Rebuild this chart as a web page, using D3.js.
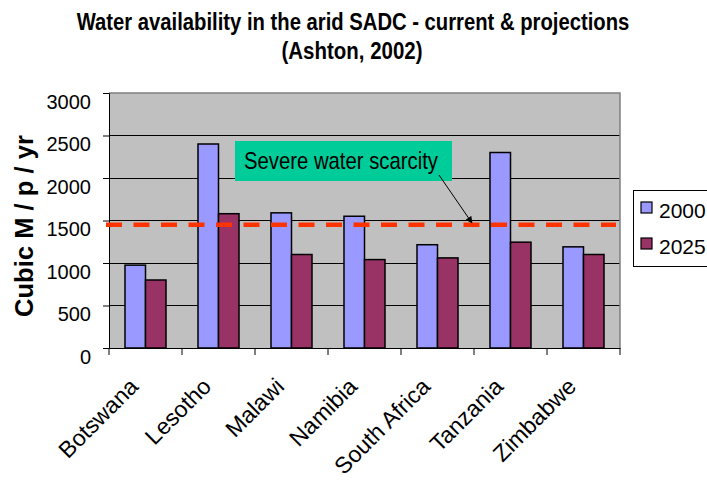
<!DOCTYPE html>
<html>
<head>
<meta charset="utf-8">
<script src="https://cdn.jsdelivr.net/npm/d3@7"></script>
<style>
  html, body { margin: 0; padding: 0; background: #fff; }
  svg { display: block; }
</style>
</head>
<body>
<svg id="chart"></svg>
<script>
const countries = ["Botswana", "Lesotho", "Malawi", "Namibia", "South Africa", "Tanzania", "Zimbabwe"];
const seriesNames = ["2000", "2025"];
const values2000 = [975, 2400, 1590, 1550, 1215, 2300, 1190];
const values2025 = [800, 1580, 1100, 1040, 1060, 1245, 1100];
const scarcityLevel = 1450;
const yTicks = [0, 500, 1000, 1500, 2000, 2500, 3000];

const colors = { "2000": "#9999ff", "2025": "#993366" };

const W = 707, H = 483;
const plot = { left: 109, right: 620, top: 93, bottom: 348 };

const svg = d3.select("#chart").attr("width", W).attr("height", H);

const x0 = d3.scaleBand()
    .domain(countries)
    .range([plot.left, plot.right]);

const x1 = d3.scaleBand()
    .domain(seriesNames)
    .range([0, x0.bandwidth()])
    .paddingOuter(0.78);

const y = d3.scaleLinear()
    .domain([0, 3000])
    .range([plot.bottom, plot.top]);

// squeeze a text horizontally to a given width, like the narrow font in the original
function fitWidth(sel, cx, cy, width, anchor) {
    const natural = sel.node().getComputedTextLength();
    const sx = width / natural;
    sel.attr("text-anchor", anchor)
        .attr("transform", `translate(${cx},${cy}) scale(${sx},1)`);
}

// plot area
svg.append("rect")
    .attr("x", plot.left).attr("y", plot.top)
    .attr("width", plot.right - plot.left).attr("height", plot.bottom - plot.top)
    .attr("fill", "#c0c0c0");

// gridlines
svg.append("g")
    .selectAll("line")
    .data(yTicks.filter(d => d > 0 && d < 3000))
    .enter().append("line")
    .attr("x1", plot.left).attr("x2", plot.right)
    .attr("y1", d => y(d)).attr("y2", d => y(d))
    .attr("stroke", "#000").attr("stroke-width", 1)
    .attr("shape-rendering", "crispEdges");

// top / right border
svg.append("path")
    .attr("d", `M${plot.left},${plot.top}H${plot.right}V${plot.bottom}`)
    .attr("fill", "none").attr("stroke", "#808080").attr("stroke-width", 1.5);

// bars
const rows = countries.map((c, i) => ({ country: c, "2000": values2000[i], "2025": values2025[i] }));

svg.append("g")
    .selectAll("g")
    .data(rows)
    .enter().append("g")
    .attr("transform", d => `translate(${x0(d.country)},0)`)
    .selectAll("rect")
    .data(d => seriesNames.map(s => ({ key: s, value: d[s] })))
    .enter().append("rect")
    .attr("x", d => x1(d.key))
    .attr("y", d => y(d.value))
    .attr("width", x1.bandwidth())
    .attr("height", d => y(0) - y(d.value))
    .attr("fill", d => colors[d.key])
    .attr("stroke", "#000")
    .attr("stroke-width", 1.5);

// y axis
const yAxis = svg.append("g")
    .attr("transform", `translate(${plot.left},0)`)
    .call(d3.axisLeft(y).tickValues(yTicks).tickFormat(d3.format("d")).tickSize(6).tickPadding(12));
yAxis.select(".domain").attr("stroke", "#000");
yAxis.selectAll("line").attr("stroke", "#000");
yAxis.selectAll("text")
    .attr("font-family", "Liberation Sans, Arial, sans-serif")
    .attr("font-size", 20)
    .attr("fill", "#000")
    .attr("dy", "0.85em")
    .attr("y", -2);

// x axis
const xAxis = svg.append("g")
    .attr("transform", `translate(0,${plot.bottom})`)
    .call(d3.axisBottom(x0).tickSize(0).tickFormat(""));
xAxis.select(".domain").attr("stroke", "#000").attr("stroke-width", 1.2);

const boundaries = countries.map(c => x0(c)).concat([x0.range()[1]]);
svg.append("g")
    .selectAll("line")
    .data(boundaries)
    .enter().append("line")
    .attr("x1", d => d).attr("x2", d => d)
    .attr("y1", plot.bottom).attr("y2", plot.bottom + 7)
    .attr("stroke", "#000");

svg.append("g")
    .selectAll("text")
    .data(countries)
    .enter().append("text")
    .attr("transform", d => `translate(${x0(d) + x0.bandwidth() / 2 - 6},388) rotate(-45)`)
    .attr("text-anchor", "end")
    .attr("font-family", "Liberation Sans, Arial, sans-serif")
    .attr("font-size", 23)
    .attr("fill", "#000")
    .text(d => d);

// severe scarcity line
svg.append("line")
    .attr("x1", plot.left - 3).attr("x2", plot.right - 4)
    .attr("y1", y(scarcityLevel)).attr("y2", y(scarcityLevel))
    .attr("stroke", "#ff3300")
    .attr("stroke-width", 4.5)
    .attr("stroke-dasharray", "16 11.5");

// annotation box
svg.append("rect")
    .attr("x", 235).attr("y", 141)
    .attr("width", 217).attr("height", 40)
    .attr("fill", "#00cc99");
const note = svg.append("text")
    .attr("font-family", "Liberation Sans, Arial, sans-serif")
    .attr("font-size", 24)
    .attr("fill", "#000")
    .text("Severe water scarcity");
fitWidth(note, 244, 169, 194, "start");

svg.append("defs").append("marker")
    .attr("id", "arrow")
    .attr("viewBox", "0 0 10 10")
    .attr("refX", 9).attr("refY", 5)
    .attr("markerWidth", 7).attr("markerHeight", 7)
    .attr("orient", "auto")
    .append("path")
    .attr("d", "M0,0L10,5L0,10z")
    .attr("fill", "#000");

svg.append("line")
    .attr("x1", 439).attr("y1", 175)
    .attr("x2", 472).attr("y2", 223)
    .attr("stroke", "#000").attr("stroke-width", 1)
    .attr("marker-end", "url(#arrow)");

// legend
svg.append("rect")
    .attr("x", 633.5).attr("y", 190.5)
    .attr("width", 90).attr("height", 76)
    .attr("fill", "#fff").attr("stroke", "#000").attr("stroke-width", 1);

const legend = svg.append("g")
    .selectAll("g")
    .data(seriesNames)
    .enter().append("g")
    .attr("transform", (d, i) => `translate(641,${202 + i * 36})`);
legend.append("rect")
    .attr("width", 11).attr("height", 11)
    .attr("fill", d => colors[d])
    .attr("stroke", "#000").attr("stroke-width", 1.2);
legend.append("text")
    .attr("x", 18).attr("y", 15.5)
    .attr("font-family", "Liberation Sans, Arial, sans-serif")
    .attr("font-size", 21)
    .attr("fill", "#000")
    .text(d => d);

// y axis label
svg.append("text")
    .attr("transform", `translate(33,226) rotate(-90)`)
    .attr("text-anchor", "middle")
    .attr("font-family", "Liberation Sans, Arial, sans-serif")
    .attr("font-weight", "bold")
    .attr("font-size", 25)
    .attr("textLength", 182)
    .attr("lengthAdjust", "spacingAndGlyphs")
    .attr("fill", "#000")
    .text("Cubic M / p / yr");

// title
const title1 = svg.append("text")
    .attr("font-family", "Liberation Sans Narrow, Arial Narrow, Liberation Sans, sans-serif")
    .attr("font-weight", "bold")
    .attr("font-size", 24)
    .attr("fill", "#000")
    .text("Water availability in the arid SADC - current & projections");
fitWidth(title1, 353, 30, 553, "middle");

const title2 = svg.append("text")
    .attr("font-family", "Liberation Sans Narrow, Arial Narrow, Liberation Sans, sans-serif")
    .attr("font-weight", "bold")
    .attr("font-size", 24)
    .attr("fill", "#000")
    .text("(Ashton, 2002)");
fitWidth(title2, 352, 59, 141, "middle");
</script>
</body>
</html>
